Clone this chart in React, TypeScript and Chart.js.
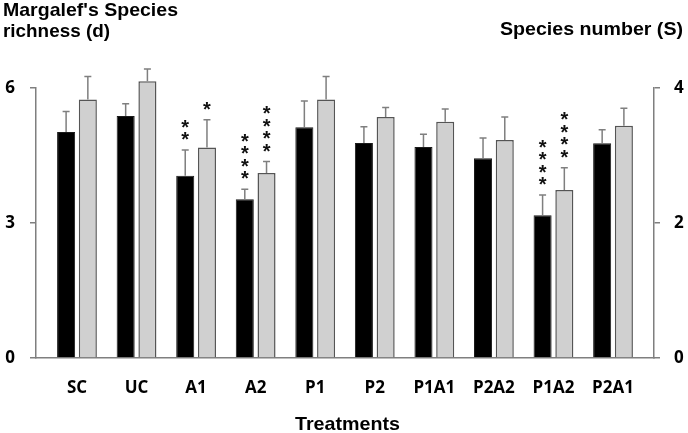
import React, { useEffect, useRef } from "react";
import { Chart, registerables } from "chart.js";

Chart.register(...registerables);

// ---- data ----
const categories = ["SC", "UC", "A1", "A2", "P1", "P2", "P1A1", "P2A2", "P1A2", "P2A1"];
const richnessD = [5.02, 5.38, 4.05, 3.53, 5.13, 4.78, 4.69, 4.44, 3.17, 4.77];
const richnessErr = [0.46, 0.27, 0.57, 0.22, 0.58, 0.36, 0.28, 0.45, 0.45, 0.3];
const speciesS = [3.83, 4.1, 3.12, 2.74, 3.83, 3.57, 3.5, 3.23, 2.49, 3.44];
const speciesErr = [0.34, 0.18, 0.41, 0.17, 0.34, 0.14, 0.19, 0.34, 0.33, 0.26];
const richnessStars = [0, 0, 2, 4, 0, 0, 0, 0, 4, 0];
const speciesStars = [0, 0, 1, 4, 0, 0, 0, 0, 4, 0];
const leftTicks = [0, 3, 6];
const rightTicks = [0, 2, 4];

const AXIS_GREY = "#7f7f7f";
const TITLE_FONT = '"Liberation Sans", Arial, sans-serif';
const TICK_FONT = '"Open Sans", "Liberation Sans", sans-serif';

function drawFit(ctx: CanvasRenderingContext2D, text: string, x: number, baseline: number, width: number, size: number) {
  ctx.save();
  ctx.font = `bold ${size}px ${TITLE_FONT}`;
  const w = ctx.measureText(text).width;
  ctx.translate(x, baseline);
  ctx.scale(width / w, 1);
  ctx.textAlign = "left";
  ctx.textBaseline = "alphabetic";
  ctx.fillStyle = "#000";
  ctx.fillText(text, 0, 0);
  ctx.restore();
}

const extrasPlugin = {
  id: "extras",
  afterDatasetsDraw(chart: any) {
    const ctx: CanvasRenderingContext2D = chart.ctx;
    const errs = [richnessErr, speciesErr];
    const stars = [richnessStars, speciesStars];
    chart.data.datasets.forEach((ds: any, di: number) => {
      const meta = chart.getDatasetMeta(di);
      const yScale = chart.scales[ds.yAxisID];
      meta.data.forEach((el: any, i: number) => {
        const v = ds.data[i].y;
        const top = yScale.getPixelForValue(v);
        const errTop = yScale.getPixelForValue(v + errs[di][i]);
        ctx.save();
        ctx.strokeStyle = AXIS_GREY;
        ctx.lineWidth = 1.5;
        ctx.beginPath();
        ctx.moveTo(el.x, top);
        ctx.lineTo(el.x, errTop);
        ctx.moveTo(el.x - 3.5, errTop);
        ctx.lineTo(el.x + 3.5, errTop);
        ctx.stroke();
        ctx.restore();
        const n = stars[di][i];
        if (n > 0) {
          ctx.save();
          ctx.font = `bold 20px ${TITLE_FONT}`;
          ctx.fillStyle = "#111";
          ctx.textAlign = "center";
          ctx.textBaseline = "alphabetic";
          const m = ctx.measureText("*");
          const asc = m.actualBoundingBoxAscent;
          const desc = m.actualBoundingBoxDescent;
          for (let k = 0; k < n; k++) {
            const cy = errTop - 14 - k * 12.5;
            ctx.fillText("*", el.x, cy - (desc - asc) / 2);
          }
          ctx.restore();
        }
      });
    });
  },
  afterDraw(chart: any) {
    const ctx: CanvasRenderingContext2D = chart.ctx;
    drawFit(ctx, "Margalef's Species", 3, 16, 175, 19);
    drawFit(ctx, "richness (d)", 3, 37, 107, 19);
    drawFit(ctx, "Species number (S)", 500, 35, 183, 19);
    drawFit(ctx, "Treatments", 295, 430, 105, 19);
  },
};

export default function App() {
  const ref = useRef<HTMLCanvasElement | null>(null);
  useEffect(() => {
    document.body.style.margin = "0";
    const canvas = ref.current!;
    const chart = new Chart(canvas, {
      type: "bar",
      data: {
        datasets: [
          {
            label: "Margalef's Species richness (d)",
            data: richnessD.map((v, i) => ({ x: i, y: v })),
            yAxisID: "y",
            backgroundColor: "#000000",
            borderColor: "#1a1a1a",
            borderWidth: 1,
            categoryPercentage: 0.73,
            barPercentage: 0.83,
            clip: false,
          },
          {
            label: "Species number (S)",
            data: speciesS.map((v, i) => ({ x: i, y: v })),
            yAxisID: "y1",
            backgroundColor: "#d0d0d0",
            borderColor: "#555555",
            borderWidth: 1.5,
            categoryPercentage: 0.73,
            barPercentage: 0.83,
            clip: false,
          },
        ] as any,
      },
      options: {
        animation: false,
        responsive: false,
        maintainAspectRatio: false,
        layout: { padding: { top: 88, left: 0, right: 0, bottom: 0 } },
        plugins: { legend: { display: false }, tooltip: { enabled: false }, title: { display: false } },
        scales: {
          x: {
            type: "linear",
            offset: false,
            min: -0.688,
            max: 9.688,
            grid: { display: false, offset: false },
            border: { display: true, color: AXIS_GREY, width: 1.5 },
            afterBuildTicks: (scale: any) => {
              scale.ticks = categories.map((_, i) => ({ value: i }));
            },
            afterFit: (scale: any) => {
              scale.height = 75;
            },
            ticks: {
              autoSkip: false,
              maxRotation: 0,
              padding: 12,
              color: "#000",
              font: { family: TICK_FONT, size: 17, weight: "bold" },
              callback: (v: any) => categories[Math.round(Number(v))] ?? "",
            },
          },
          y: {
            type: "linear",
            position: "left",
            min: 0,
            max: 6,
            afterBuildTicks: (scale: any) => {
              scale.ticks = leftTicks.map((v) => ({ value: v }));
            },
            afterFit: (scale: any) => {
              scale.width = 36;
            },
            grid: { display: true, drawOnChartArea: false, drawTicks: true, tickLength: 6, color: AXIS_GREY, lineWidth: 1.5 },
            border: { display: true, color: AXIS_GREY, width: 1.5 },
            ticks: {
              padding: 15,
              color: "#000",
              font: { family: TICK_FONT, size: 17, weight: "bold" },
            },
          },
          y1: {
            type: "linear",
            position: "right",
            min: 0,
            max: 4,
            afterBuildTicks: (scale: any) => {
              scale.ticks = rightTicks.map((v) => ({ value: v }));
            },
            afterFit: (scale: any) => {
              scale.width = 34;
            },
            grid: { display: true, drawOnChartArea: false, drawTicks: true, tickLength: 6, color: AXIS_GREY, lineWidth: 1.5 },
            border: { display: true, color: AXIS_GREY, width: 1.5 },
            ticks: {
              padding: 14,
              color: "#000",
              font: { family: TICK_FONT, size: 17, weight: "bold" },
            },
          },
        },
      } as any,
      plugins: [extrasPlugin],
    });
    return () => chart.destroy();
  }, []);
  return (
    <div style={{ width: 688, height: 433, position: "relative", background: "#fff" }}>
      <canvas ref={ref} width={688} height={433} style={{ display: "block", width: 688, height: 433 }} />
    </div>
  );
}
